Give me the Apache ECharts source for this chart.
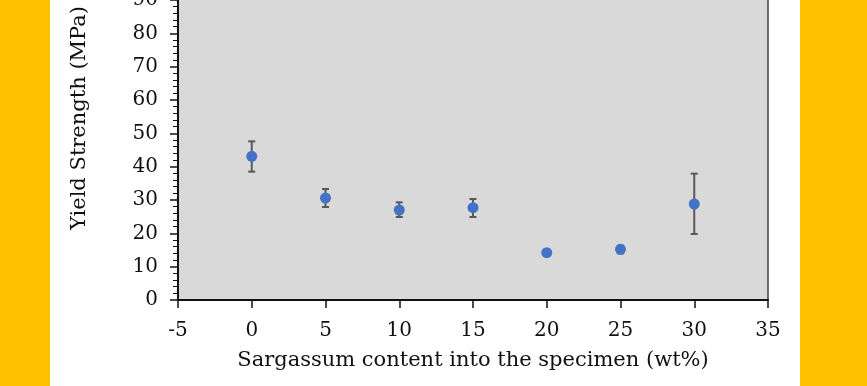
<!DOCTYPE html>
<html>
<head>
<meta charset="utf-8">
<script src="https://cdn.jsdelivr.net/npm/echarts@6/dist/echarts.min.js"></script>
<style>
html, body { margin: 0; padding: 0; }
#chart { width: 867px; height: 386px; }
</style>
</head>
<body>
<div id="chart"></div>
<script>
// data
var content = [0, 5, 10, 15, 20, 25, 30];
var yieldStrength = [43.1, 30.6, 27.0, 27.7, 14.2, 15.2, 28.8];
var errLow = [38.5, 27.9, 24.9, 24.9, 14.2, 14.0, 19.8];
var errHigh = [47.6, 33.3, 29.3, 30.3, 14.2, 16.3, 37.9];

var points = content.map(function (x, i) { return [x, yieldStrength[i]]; });
var bars = content.map(function (x, i) { return [x, errLow[i], errHigh[i]]; });

var serif = 'DejaVu Serif';

var myChart = echarts.init(document.getElementById('chart'));
var option = {
    backgroundColor: '#FFC000',
    animation: false,
    graphic: [{
        type: 'rect',
        z: -10,
        shape: { x: 50, y: 0, width: 750, height: 386 },
        style: { fill: '#ffffff' }
    }],
    grid: {
        left: 178, right: 99, top: 0, bottom: 86,
        outerBoundsMode: 'none',
        show: true,
        backgroundColor: '#d9d9d9',
        borderWidth: 0
    },
    xAxis: {
        type: 'value',
        min: -5, max: 35, interval: 5,
        name: 'Sargassum content into the specimen (wt%)',
        nameLocation: 'middle',
        nameGap: 50,
        nameTextStyle: { fontFamily: serif, fontSize: 21, color: '#111' },
        axisLine: { show: true, onZero: false, lineStyle: { color: '#111', width: 2 } },
        axisTick: { show: true, length: 8, lineStyle: { color: '#111', width: 1.5 } },
        axisLabel: { margin: 21, fontFamily: serif, fontSize: 20, color: '#111' },
        splitLine: { show: false }
    },
    yAxis: [{
        type: 'value',
        min: 0, max: 90, interval: 10,
        name: 'Yield Strength (MPa)',
        nameLocation: 'middle',
        nameGap: 88,
        nameTextStyle: { fontFamily: serif, fontSize: 21, color: '#111', padding: [0, 0, 0, 64] },
        axisLine: { show: true, onZero: false, lineStyle: { color: '#111', width: 2 } },
        axisTick: { show: true, length: 8, lineStyle: { color: '#111', width: 1.5 } },
        minorTick: { show: true, splitNumber: 5, length: 5, lineStyle: { color: '#111', width: 1 } },
        axisLabel: { margin: 20, fontFamily: serif, fontSize: 20, color: '#111' },
        splitLine: { show: false }
    }, {
        type: 'value',
        position: 'right',
        min: 0, max: 90,
        axisLine: { show: true, onZero: false, lineStyle: { color: '#404040', width: 1.5 } },
        axisTick: { show: false },
        axisLabel: { show: false },
        splitLine: { show: false }
    }],
    series: [
        {
            type: 'custom',
            data: bars,
            z: 2,
            renderItem: function (params, api) {
                var x = api.value(0);
                var lo = api.coord([x, api.value(1)]);
                var hi = api.coord([x, api.value(2)]);
                var w = 3.5;
                var style = { stroke: '#595959', lineWidth: 2 };
                return {
                    type: 'group',
                    children: [
                        { type: 'line', shape: { x1: lo[0], y1: lo[1], x2: hi[0], y2: hi[1] }, style: style },
                        { type: 'line', shape: { x1: lo[0] - w, y1: lo[1], x2: lo[0] + w, y2: lo[1] }, style: style },
                        { type: 'line', shape: { x1: hi[0] - w, y1: hi[1], x2: hi[0] + w, y2: hi[1] }, style: style }
                    ]
                };
            }
        },
        {
            type: 'scatter',
            data: points,
            z: 3,
            symbol: 'circle',
            symbolSize: 11,
            itemStyle: { color: '#4472C4', opacity: 1 }
        }
    ]
};
myChart.setOption(option);
</script>
</body>
</html>
